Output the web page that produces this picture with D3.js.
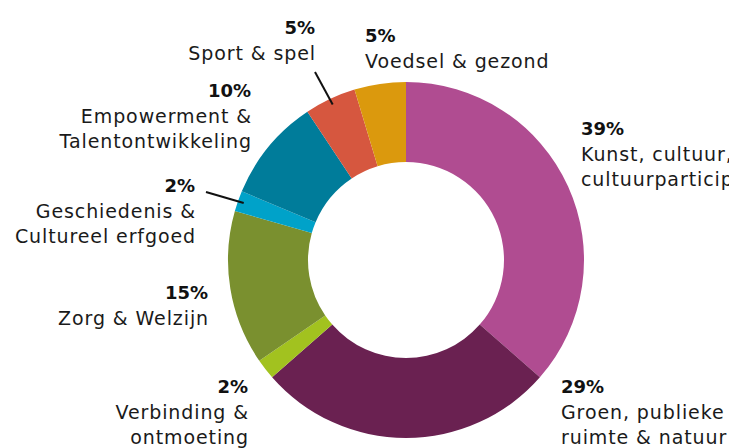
<!DOCTYPE html>
<html>
<head>
<meta charset="utf-8">
<script src="https://cdn.jsdelivr.net/npm/d3@7"></script>
<style>
  html, body { margin: 0; padding: 0; background: #fff; overflow: hidden; }
  svg { display: block; }
</style>
</head>
<body>
<div id="chart"></div>
<script>
// categories, clockwise from the top
const categories = [
  "Kunst, cultuur, cultuurparticipatie",
  "Groen, publieke ruimte & natuur",
  "Verbinding & ontmoeting",
  "Zorg & Welzijn",
  "Geschiedenis & Cultureel erfgoed",
  "Empowerment & Talentontwikkeling",
  "Sport & spel",
  "Voedsel & gezond"
];
const values = [39, 29, 2, 15, 2, 10, 5, 5];
// label text as broken over lines in the picture
const labelLines = [
  ["Kunst, cultuur,", "cultuurparticipatie"],
  ["Groen, publieke", "ruimte & natuur"],
  ["Verbinding &", "ontmoeting"],
  ["Zorg & Welzijn"],
  ["Geschiedenis &", "Cultureel erfgoed"],
  ["Empowerment &", "Talentontwikkeling"],
  ["Sport & spel"],
  ["Voedsel & gezond"]
];
const colors = ["#b04c91", "#6a2151", "#a2c21f", "#7a902f", "#00a2c9", "#007c9a", "#d6573f", "#db990d"];

var w = 729, h = 448;
var cx = 406, cy = 260;
var outerR = 178, innerR = 98;

// hand placed label anchors (x, baseline of the percentage, text-anchor)
var labelPos = [
  {x: 581, y: 135, anchor: "start"},
  {x: 561, y: 393, anchor: "start"},
  {x: 248, y: 393, anchor: "end"},
  {x: 208, y: 299, anchor: "end"},
  {x: 195, y: 192, anchor: "end"},
  {x: 251, y: 97, anchor: "end"},
  {x: 315, y: 34, anchor: "end"},
  {x: 365, y: 42, anchor: "start"}
];
// leader lines for the thin slices: [from x, from y, radius factor on the slice]
var leaders = {
  4: {x: 206, y: 192},
  6: {x: 315, y: 72}
};

var svg = d3.select("#chart").append("svg")
  .attr("width", w)
  .attr("height", h)
  .attr("viewBox", "0 0 " + w + " " + h);

var pie = d3.pie().sort(null).value(d => d);
var arcs = pie(values);
var arc = d3.arc().innerRadius(innerR).outerRadius(outerR);

var g = svg.append("g").attr("transform", "translate(" + cx + "," + cy + ")");

g.selectAll("path")
  .data(arcs)
  .enter().append("path")
    .attr("d", arc)
    .attr("fill", (d, i) => colors[i]);

// leader lines end just inside the outer edge, at the slice's middle angle
Object.keys(leaders).forEach(function(k) {
  var a = arcs[k];
  var mid = (a.startAngle + a.endAngle) / 2;
  var r = outerR - 6;
  var ex = cx + Math.sin(mid) * r;
  var ey = cy - Math.cos(mid) * r;
  svg.append("line")
    .attr("x1", leaders[k].x).attr("y1", leaders[k].y)
    .attr("x2", ex).attr("y2", ey)
    .attr("stroke", "#111")
    .attr("stroke-width", 2);
});

var labels = svg.selectAll("g.label")
  .data(arcs)
  .enter().append("g")
    .attr("class", "label");

labels.append("text")
  .attr("x", (d, i) => labelPos[i].x)
  .attr("y", (d, i) => labelPos[i].y)
  .attr("text-anchor", (d, i) => labelPos[i].anchor)
  .style("font-family", "DejaVu Sans")
  .style("font-weight", "bold")
  .style("font-size", "18px")
  .style("fill", "#111")
  .text((d, i) => values[i] + "%");

labels.each(function(d, i) {
  var sel = d3.select(this);
  labelLines[i].forEach(function(line, j) {
    sel.append("text")
      .attr("x", labelPos[i].x + (labelPos[i].anchor === "end" ? 1 : 0))
      .attr("y", labelPos[i].y + 25.5 * (j + 1))
      .attr("text-anchor", labelPos[i].anchor)
      .style("font-family", "DejaVu Sans")
      .style("font-size", "19px")
      .style("letter-spacing", "0.9px")
      .style("fill", "#1a1a1a")
      .text(line);
  });
});
</script>
</body>
</html>
